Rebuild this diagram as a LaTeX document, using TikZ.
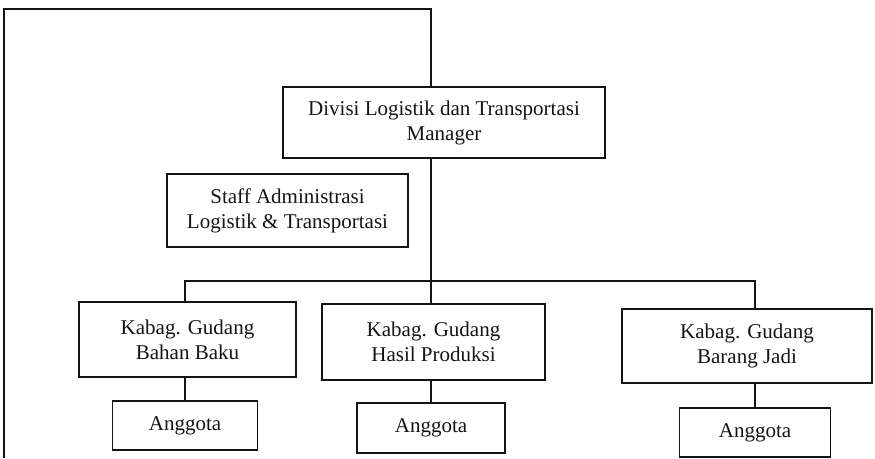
\documentclass[tikz,border=0pt]{standalone}
\usepackage{fontspec}
\setmainfont{Liberation Serif}
\usepackage{xcolor}
\definecolor{logink}{RGB}{20, 20, 20}

\tikzset{
  orgbox/.style={draw=logink, line width=1.4pt, align=center, inner sep=0pt,
    text=logink, font=\fontsize{21}{25}\selectfont},
  orgline/.style={draw=logink, line width=1.4pt}
}

\begin{document}
\begin{tikzpicture}[x=1pt, y=-1pt]
\useasboundingbox (0,0) rectangle (875,458);

% manager and staff
\node[orgbox, minimum width=322pt, minimum height=71pt] (mgr) at (444,122.5) {Divisi Logistik dan Transportasi\\Manager};
\node[orgbox, minimum width=241pt, minimum height=73pt] (staff) at (287.5,210.5) {Staff Administrasi\\Logistik \& Transportasi};

% kepala bagian gudang
\node[orgbox, minimum width=217pt, minimum height=75pt] (kbbaku) at (187.5,339.5) {Kabag. Gudang\\Bahan Baku};
\node[orgbox, minimum width=223pt, minimum height=76pt] (kbhasil) at (433.5,342) {Kabag. Gudang\\Hasil Produksi};
\node[orgbox, minimum width=250pt, minimum height=74pt] (kbjadi) at (747,346) {Kabag. Gudang\\Barang Jadi};

% anggota
\node[orgbox, minimum width=145pt, minimum height=49pt] (agbaku) at (185,425.5) {Anggota};
\node[orgbox, minimum width=148pt, minimum height=50pt] (aghasil) at (431,428) {Anggota};
\node[orgbox, minimum width=151pt, minimum height=49pt] (agjadi) at (755,432.5) {Anggota};

% line from the left margin into the manager
\coordinate (margin) at (4,458);
\coordinate (bus) at (431,281);
\draw[orgline] (margin) -- (4,9) -| (mgr.north -| bus);

% bus to the kabag boxes
\draw[orgline] (mgr.south -| bus) -- (bus);
\draw[orgline] (kbbaku.north -| agbaku) |- (bus) -| (kbjadi.north -| agjadi);
\draw[orgline] (bus) -- (kbhasil.north -| bus);

% kabag to anggota
\draw[orgline] (kbbaku.south -| agbaku) -- (agbaku.north);
\draw[orgline] (kbhasil.south -| aghasil) -- (aghasil.north);
\draw[orgline] (kbjadi.south -| agjadi) -- (agjadi.north);
\end{tikzpicture}
\end{document}
